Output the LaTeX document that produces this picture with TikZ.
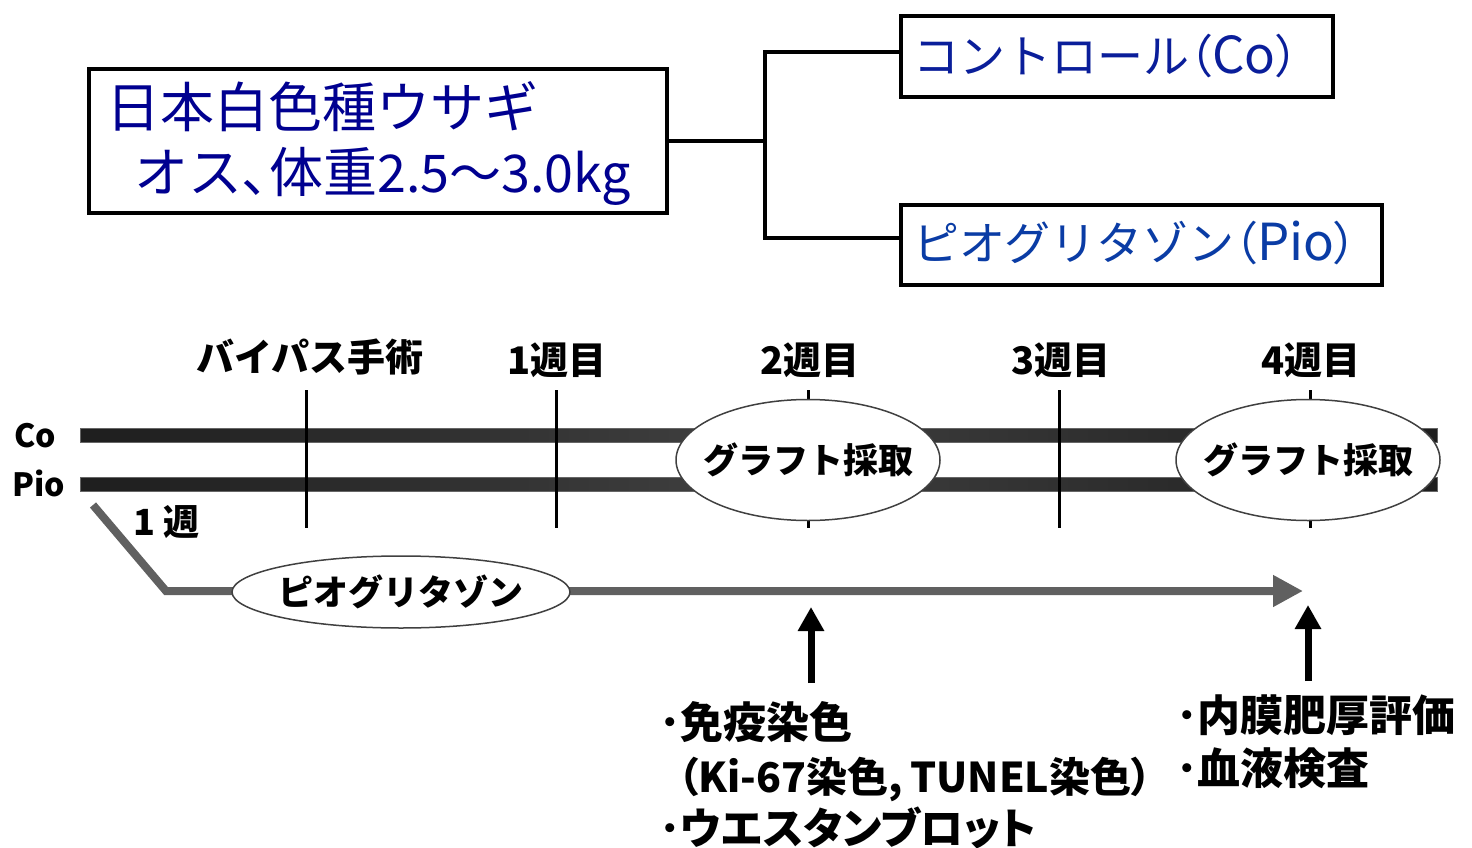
\documentclass[tikz,border=0pt]{standalone}
\usepackage{fontspec}
\newfontfamily\jp{Noto Sans CJK JP}
\newfontfamily\jpp{Noto Sans CJK JP}[RawFeature=+palt]
\usetikzlibrary{arrows.meta,shapes.geometric,calc}
\definecolor{srcblue}{HTML}{000090}
\definecolor{coblue}{HTML}{0A1E9A}
\definecolor{pioblue}{HTML}{0A3CA5}
\definecolor{arrowgray}{HTML}{606060}
\definecolor{barL}{HTML}{1E1E1E}
\definecolor{barM}{HTML}{404040}
\begin{document}
\begin{tikzpicture}[x=1pt,y=-1pt,
  box/.style={draw=black,line width=4pt,fill=white,inner sep=0pt},
  conn/.style={draw=black,line width=4pt},
  txt/.style={inner sep=0pt,anchor=base west},
  bluetxt/.style={txt,font=\jp\fontsize{54}{60}\selectfont},
  grptxt/.style={txt,font=\jp\fontsize{46}{54}\selectfont},
  wk/.style={inner sep=0pt,anchor=base,font=\jp\bfseries\fontsize{38}{44}\selectfont},
  grp/.style={inner sep=0pt,anchor=base,font=\jp\bfseries\fontsize{32}{38}\selectfont},
  tick/.style={draw=black,line width=3pt},
  bar/.style={left color=barL,right color=barL,middle color=barM,draw=black!60,line width=0.8pt},
  ovalline/.style={draw=black!75,line width=1.5pt,fill=white},
  ovaltxt/.style={inner sep=0pt,font=\jp\bfseries\fontsize{35}{42}\selectfont},
  garrow/.style={draw=arrowgray,line width=8pt,line join=miter,-{Triangle[length=30pt,width=30pt]}},
  barrow/.style={draw=black,line width=7pt,-{Triangle[length=24pt,width=25pt]}},
  res/.style={txt,font=\jp\bfseries\fontsize{43}{52}\selectfont}
]
\useasboundingbox (0,0) rectangle (1472,848);

% --- top: animal and groups ---
\node[box,minimum width=578pt,minimum height=144pt] (src) at (378,141) {};
\node[bluetxt,text=srcblue] (s1) at (106,128) {日本白色種ウサギ};
\node[bluetxt,text=srcblue] (s2) at (134,192) {オス{\jpp 、}体重{\fontsize{52}{60}\selectfont 2.5～3.0kg}};

\node[box,minimum width=432pt,minimum height=81pt] (co) at (1117,56.5) {};
\node[grptxt,text=coblue] (cot) at (913,74) {コントロール{\jpp （}{\fontsize{51}{54}\selectfont Co}{\jpp ）}};
\node[box,minimum width=481pt,minimum height=80pt] (pio) at (1141.5,245) {};
\node[grptxt,text=pioblue] (piot) at (913,260) {ピオグリタゾン{\jpp （}{\fontsize{51}{54}\selectfont Pio}{\jpp ）}};

\coordinate (jx) at (765,141);
\draw[conn] (src.east) -- (jx);
\draw[conn] ($(co.west)+(0,-4.5)$) -| (jx) |- ($(pio.west)+(0,-7)$);

% --- timeline labels ---
\node[wk] (w0) at (310,371) {バイパス手術};
\node[wk] (w1) at (557,374) {1週目};
\node[wk] (w2) at (810,374) {2週目};
\node[wk] (w3) at (1061,374) {3週目};
\node[wk] (w4) at (1311,374) {4週目};

\node[grp] (colab) at (35,447) {Co};
\node[grp] (piolab) at (39,496) {Pio};

% bars
\shade[bar] (80,428) rectangle (1437,442);
\shade[bar] (80,477) rectangle (1437,491);

% ticks
\foreach \i/\x in {0/306,1/556,2/808,3/1059,4/1310}{
  \coordinate (t\i a) at (\x,390);
  \coordinate (t\i b) at (\x,528);
  \draw[tick] (t\i a) -- (t\i b);
}

% graft ellipses
\coordinate (g2c) at (808,460);
\coordinate (g4c) at (1308,460);
\draw[ovalline] (g2c) ellipse [x radius=132, y radius=60.5];
\draw[ovalline] (g4c) ellipse [x radius=132, y radius=60.5];
\node[ovaltxt] (g2) at (g2c) {グラフト採取};
\node[ovaltxt] (g4) at (g4c) {グラフト採取};

% pioglitazone administration
\node[grp,anchor=base west,font=\jp\bfseries\fontsize{36}{42}\selectfont] (wk1) at (133,535) {1 週};
\coordinate (ps) at (93,505);
\coordinate (pb) at (166,591);
\coordinate (pe) at (1303,591);
\draw[garrow] (ps) -- (pb) -- (pe);
\coordinate (pzc) at (401,592);
\draw[ovalline] (pzc) ellipse [x radius=169, y radius=36];
\node[ovaltxt] (pz) at (pzc) {ピオグリタゾン};

% analysis arrows
\coordinate (a2s) at (811,683);
\coordinate (a2e) at (811,607);
\coordinate (a4s) at (1308,681);
\coordinate (a4e) at (1308,605);
\draw[barrow] (a2s) -- (a2e);
\draw[barrow] (a4s) -- (a4e);

% analysis texts
\node[res] (r1) at (659,738) {･免疫染色};
\node[res,font=\jp\bfseries\fontsize{41}{52}\selectfont] (r2) at (678,792) {{\jpp （}Ki-67染色,\hspace{-2pt} TUNEL染色{\jpp ）}};
\node[res] (r3) at (659,844) {･{\jpp ウエスタンブロット}};
\node[res] (r4) at (1176,731) {･内膜肥厚評価};
\node[res] (r5) at (1176,784) {･血液検査};
\end{tikzpicture}
\end{document}
